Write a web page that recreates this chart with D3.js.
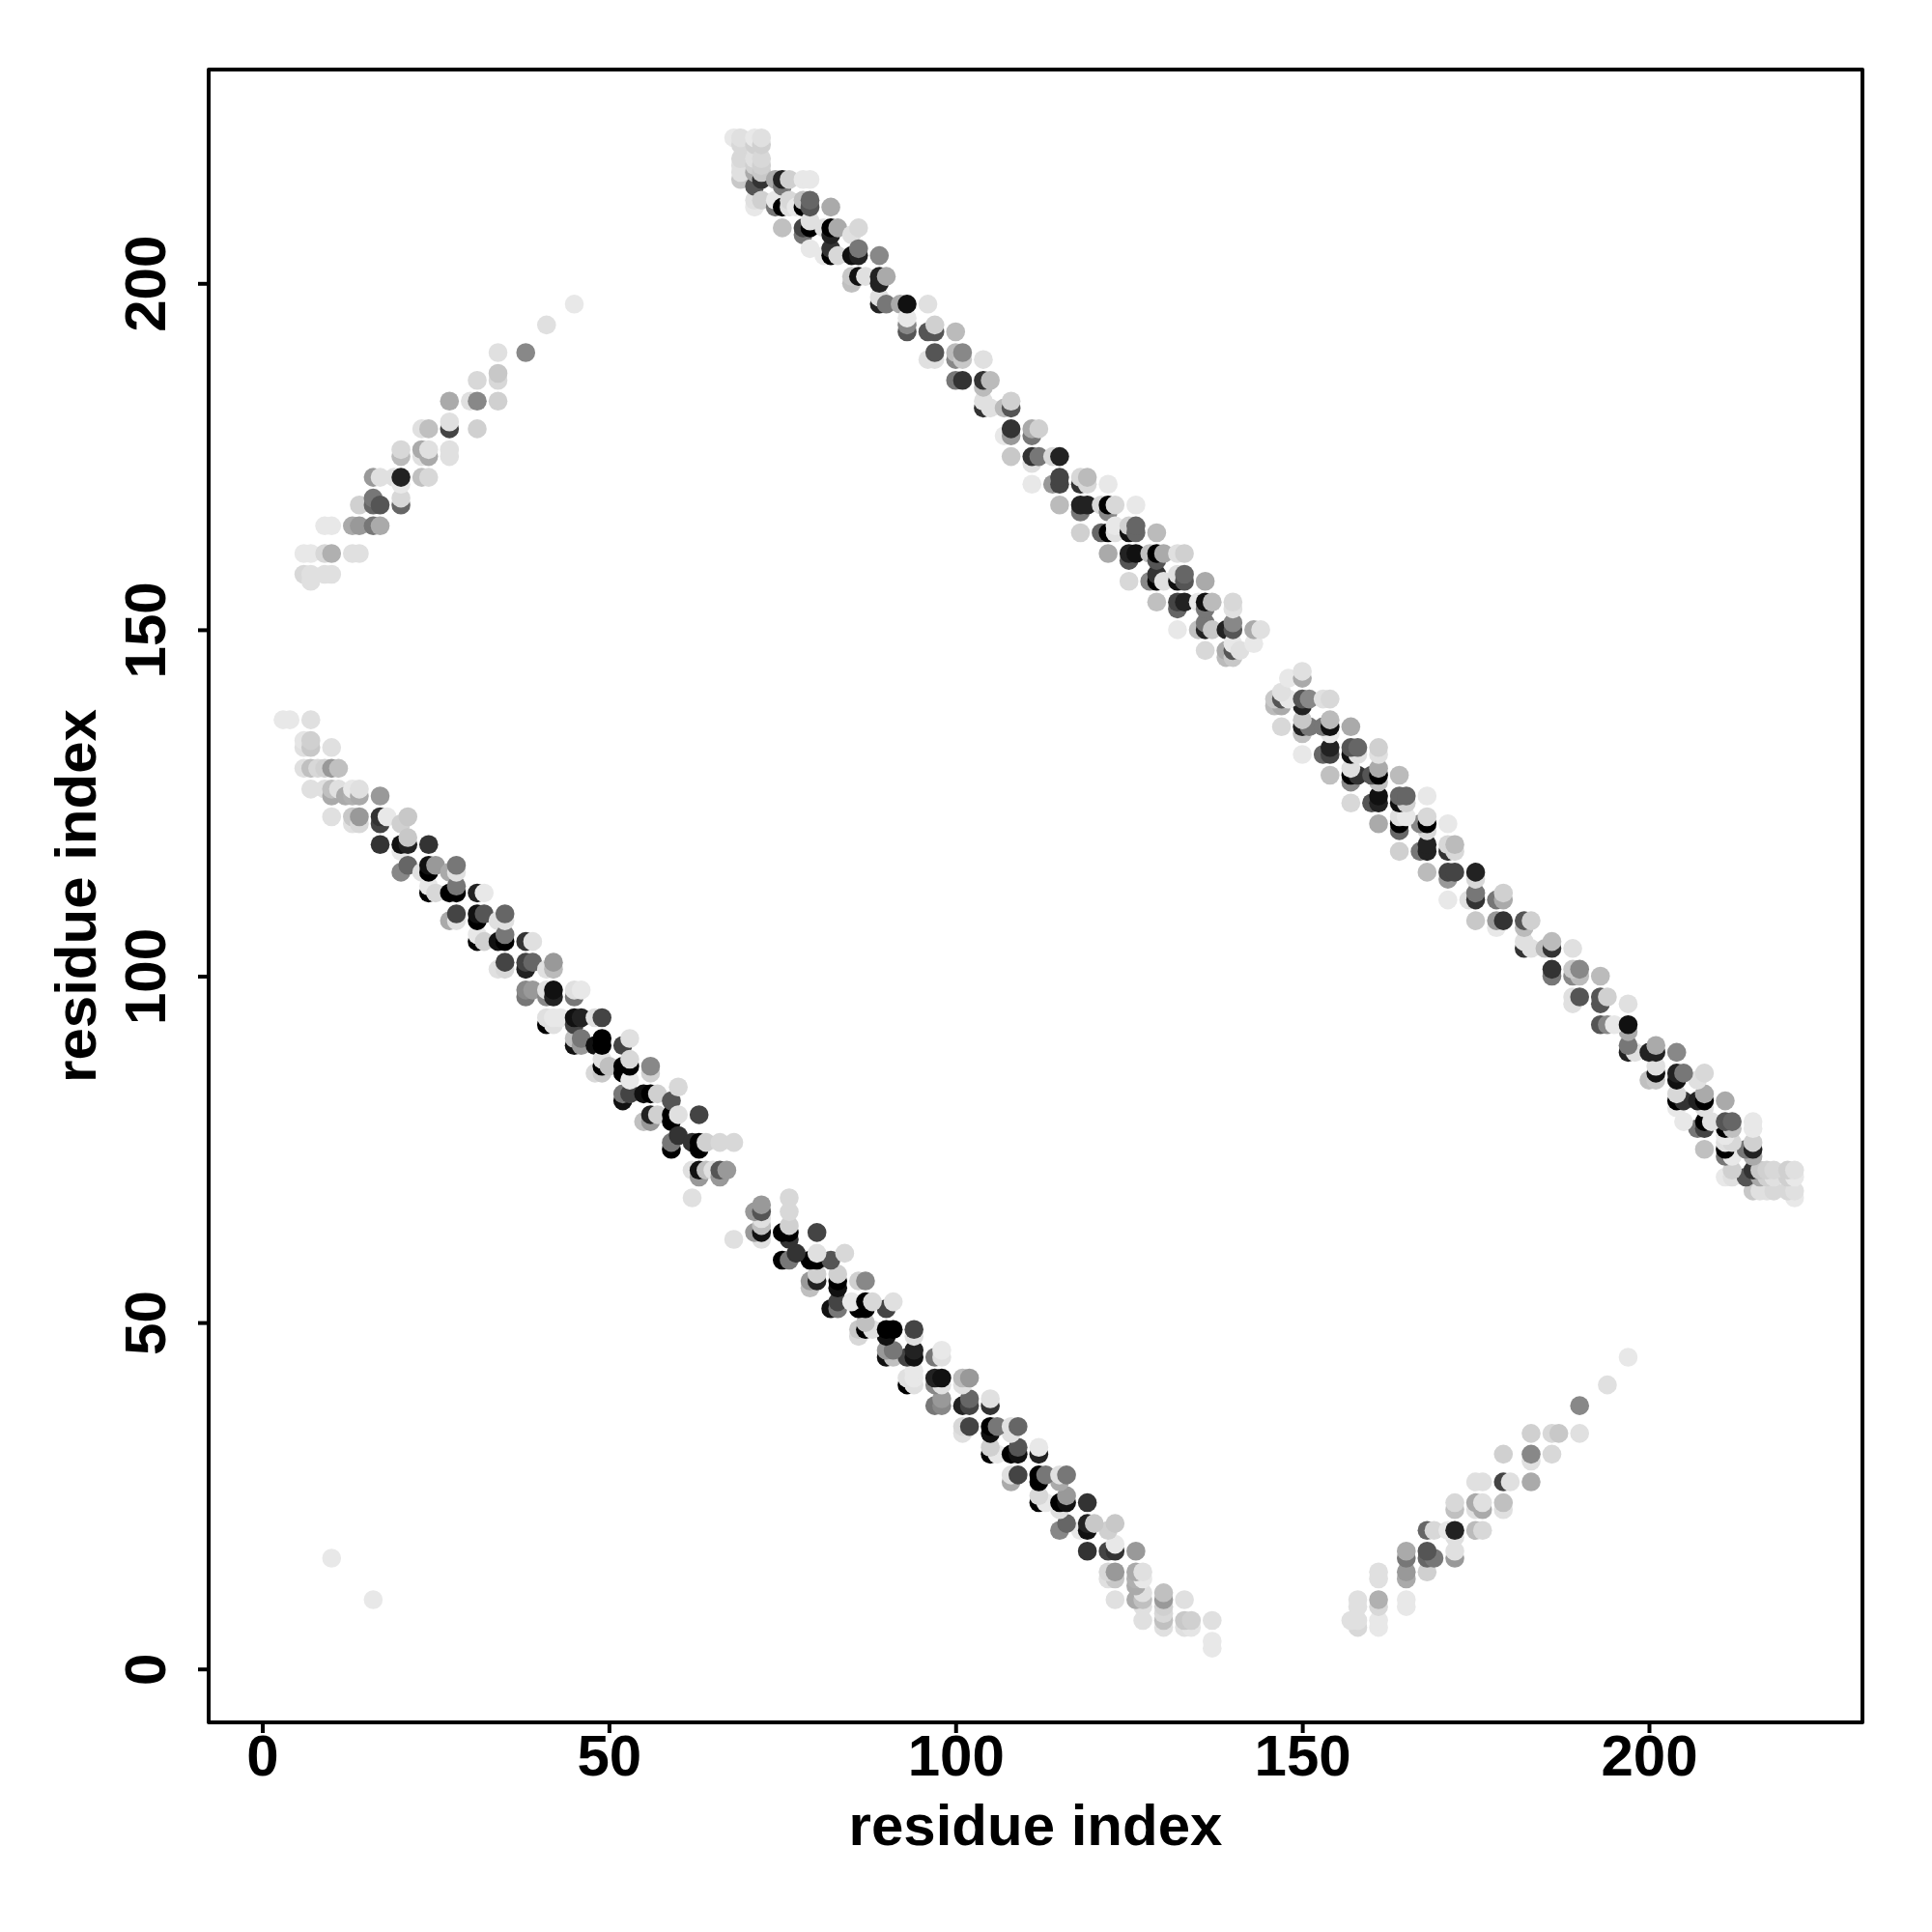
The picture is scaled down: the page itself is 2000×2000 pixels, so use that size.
<!DOCTYPE html>
<html><head><meta charset="utf-8">
<script src="https://cdn.jsdelivr.net/npm/d3@7/dist/d3.min.js"></script>
<style>html,body{margin:0;background:#fff}svg{display:block}</style></head>
<body><div id="chart"></div>
<script>
// each contact: [residue i, residue j, grey level]; the map is symmetric, mirror drawn too
const helixPairA = [
[3,137,0xe8],[4,137,0xe8],[7,137,0xe0],[6,134,0xe5],[7,134,0xd0],[6,133,0xe0],[7,133,0xc8],[10,133,0xe0],
[6,130,0xe0],[7,130,0xc0],[8,130,0xd8],[9,130,0xd0],[10,130,0x99],[11,130,0xc0],
[7,127,0xe0],[9,127,0xe0],[10,127,0xc0],[10,126,0xaa],[11,127,0xe0],[12,126,0xaa],[13,126,0xb0],[13,127,0xe8],[14,126,0xaa],[14,127,0xe0],[17,126,0x99],
[10,123,0xe0],[13,122,0xe0],[13,123,0xc8],[14,122,0xd8],[14,123,0x99],[17,122,0x44],[17,123,0x33],[18,123,0xe8],[20,122,0xd0],[21,123,0xc8],
[17,119,0x33],[20,118,0xe8],[20,119,0x11],[21,119,0x22],[21,120,0xc8],[24,119,0x33],
[20,115,0x88],[21,116,0x66],[23,115,0xe0],[24,115,0x00],[24,116,0x11],[25,116,0x99],[27,115,0xaa],[28,115,0xe0],[28,116,0x77],
[24,112,0x00],[24,113,0xe8],[25,112,0xd8],[27,112,0x00],[28,112,0x00],[28,113,0x77],[31,112,0x22],[32,112,0xe8],
[27,108,0xaa],[28,108,0xe0],[28,109,0x44],[31,108,0x00],[31,109,0x11],[32,109,0x55],[34,108,0xe0],[35,108,0xe0],[35,109,0x66],
[31,105,0x00],[31,106,0xe8],[32,105,0xd0],[34,105,0x11],[35,105,0x00],[35,106,0x77],[38,105,0x33],[39,105,0xe0],
[34,101,0xe0],[35,101,0xd8],[35,102,0x44],[38,101,0x22],[38,102,0x44],[39,102,0x66],[41,101,0xe0],[42,101,0xbb],[42,102,0x99],
[38,97,0x77],[38,98,0x88],[39,98,0x99],[41,97,0x88],[41,98,0xe0],[42,97,0x22],[42,98,0x11],[45,97,0x77],[45,98,0xe0],[46,98,0xe8],
[41,93,0x00],[41,94,0xe0],[42,93,0xe0],[42,94,0xe8],[43,94,0xe8],[45,93,0x44],[45,94,0x11],[46,94,0x22],[48,94,0xe0],[49,94,0x44],
[45,90,0x11],[45,91,0xc0],[46,90,0x99],[46,91,0x77],[48,90,0x11],[49,90,0x00],[49,91,0x00],[52,90,0x44],[53,91,0xe0],
[48,86,0xd8],[49,86,0xc8],[49,87,0x00],[49,88,0xe0],[50,87,0xc0],[52,86,0x00],[52,87,0x00],[53,85,0xe8],[53,87,0x00],[53,88,0xd8],[56,87,0x88],[56,86,0xd0],
[52,82,0x11],[52,83,0x77],[53,83,0x44],[55,83,0x11],[56,83,0x00],[57,83,0xd0],[59,82,0x55],[60,84,0xd8],
[55,79,0xc0],[56,79,0x99],[56,80,0x22],[57,80,0xd0],[59,79,0x00],[59,80,0x00],[60,80,0xe0],[63,80,0x44],
[59,75,0x00],[59,76,0x77],[60,77,0x33],[62,76,0x33],[63,75,0x00],[63,76,0x00],[64,76,0xd0],[66,76,0xd8],[68,76,0xd8],
[62,72,0xe0],[63,71,0x99],[63,72,0x11],[64,72,0xc0],[65,72,0xe0],[66,71,0x99],[66,72,0x55],[67,72,0x99],
[62,68,0xe0]
];
const helixPairB = [
[68,221,0xe8],[69,221,0xe0],[69,220,0xd8],[69,218,0xd8],[69,217,0xe0],[69,216,0xe0],[69,215,0xc8],
[71,221,0xe8],[71,220,0xd0],[71,218,0xe0],[71,217,0xd0],[71,216,0xaa],[71,214,0x55],[71,212,0xe0],[71,211,0xe8],
[72,221,0xe0],[72,220,0xd0],[72,218,0xd8],[72,217,0xd0],[72,216,0xc8],[72,215,0x33],[72,212,0xd0],
[74,215,0xaa],[75,215,0x22],[75,214,0x77],[76,215,0xd0],[78,215,0xe8],[79,215,0xe8],
[74,212,0xe8],[74,211,0x77],[75,211,0x00],[76,212,0xd8],[76,211,0xe0],[77,211,0xe8],[78,212,0xc0],[78,211,0x00],[79,212,0x66],[79,211,0x55],[82,211,0xaa],
[75,208,0xc0],[78,208,0x44],[78,207,0x77],[79,208,0x00],[79,209,0xe0],[81,208,0xe0],[82,208,0x00],[82,207,0x22],[83,208,0xaa],[85,207,0xe0],[86,208,0xd8],
[79,205,0xe8],[81,204,0xe8],[82,205,0x33],[82,204,0x00],[83,204,0xd8],[85,204,0x11],[86,205,0x77],[86,204,0x22],[89,204,0x88],
[85,201,0xc8],[85,200,0xc0],[86,201,0x11],[87,201,0xe0],[89,201,0x22],[89,200,0x22],[90,201,0xaa],
[89,198,0xe0],[89,197,0x22],[90,197,0x77],[92,197,0xaa],[93,197,0x11],[93,195,0xe8],[96,197,0xe0],
[93,194,0x88],[93,193,0x55],[96,193,0x55],[97,193,0x55],[97,194,0xd0],[100,193,0xbb],
[96,189,0xe0],[97,190,0x55],[97,189,0xe0],[100,190,0xbb],[100,189,0x88],[101,190,0x88],[101,189,0xc8],[104,189,0xe0],
[100,186,0x77],[101,186,0x33],[104,186,0x33],[104,185,0xbb],[105,186,0xbb],
[104,183,0xe0],[104,182,0x33],[105,182,0xe0],[107,182,0xbb],[108,183,0xd0],[108,182,0x55],
[107,178,0xe8],[108,179,0x33],[108,178,0x99],[111,179,0xaa],[111,178,0x77],[112,179,0xd0],
[108,175,0xc8],[111,175,0x33],[111,174,0xe0],[112,175,0x77],[114,175,0xd8],[115,175,0x22],
[111,171,0xe8],[114,171,0x99],[115,172,0x44],[115,171,0x44],[118,172,0xd8],[118,171,0x33],[119,172,0xbb],[119,171,0xd8],[122,171,0xe8],
[115,168,0xbb],[118,168,0x22],[118,167,0x77],[119,168,0x22],[121,168,0xd8],[122,168,0x00],[122,167,0x88],[123,168,0xd8],[126,168,0xe8],
[118,164,0xd0],[121,164,0x66],[122,164,0x00],[123,165,0xe8],[123,164,0xe0],[125,165,0xd0],[125,164,0x11],[126,165,0x66],[126,164,0x66],[129,164,0xbb],
[122,161,0xaa],[125,161,0x22],[125,160,0x55],[126,161,0x11],[128,161,0xc0],[129,161,0x00],[129,160,0x55],[130,161,0xaa],[132,161,0xe0],[133,161,0xd0],
[125,157,0xd8],[128,157,0x88],[129,158,0x33],[129,157,0x00],[130,157,0xe0],[132,157,0x11],[132,158,0xe0],[133,158,0x66],[133,157,0x55],[136,157,0xaa],
[129,154,0xc0],[132,154,0x44],[132,153,0x66],[133,154,0x22],[135,154,0xe8],[136,154,0x11],[137,154,0xbb],
[132,150,0xe8],[135,150,0xc0],[136,150,0x22],[137,150,0xc8],[136,153,0x77],[136,151,0x77],[136,147,0xd8],
[139,146,0xbb],[139,147,0xaa],[139,150,0x22],
[140,146,0xc8],[140,147,0x55],[140,148,0xe8],[140,150,0x55],[140,151,0x88],[140,153,0xe0],[140,154,0xd8],
[141,147,0xe0],[143,148,0xe8],[143,150,0xaa],[144,150,0xe0]
];
const crossWing = [
[45,197,0xe8],[41,194,0xe0],[38,190,0x88],[34,190,0xe0],[31,186,0xd8],[34,187,0xc8],[34,186,0xd8],
[27,183,0xaa],[30,183,0xe0],[31,183,0x88],[34,183,0xd0],[23,179,0xe0],[24,179,0xc0],[27,179,0x44],[27,180,0xe0],[31,179,0xd0],
[20,175,0xbb],[20,176,0xd8],[23,175,0xe0],[23,176,0xaa],[24,175,0xaa],[24,176,0xe0],[27,175,0xe0],[27,176,0xe0],
[16,172,0x99],[17,172,0xe0],[19,172,0xe0],[20,172,0x22],[23,172,0xc0],[24,172,0xd8],[20,171,0xe8],[20,168,0x66],[20,169,0xd8],
[14,168,0xd0],[16,168,0x66],[16,169,0x77],[17,168,0x55],
[9,165,0xe8],[10,165,0xe8],[13,165,0xaa],[14,165,0x99],[16,165,0x77],[17,165,0xaa],
[6,161,0xe8],[7,161,0xe8],[9,161,0xd8],[10,161,0xb0],[13,161,0xe0],[14,161,0xe0],
[6,158,0xd8],[7,157,0xe0],[7,158,0xe0],[9,158,0xe0],[10,158,0xe0]
];
const strayContacts = [[10,16,0xe8]];
const tickValues = [0,50,100,150,200];
const axisTitle = "residue index";

const W = 2000, H = 2000;
const frame = {l:216, r:1928, t:72, b:1783};
const x = d3.scaleLinear().domain([0,200]).range([271.5,1707]);
const y = d3.scaleLinear().domain([0,200]).range([1727.7,293.3]);
const svg = d3.select("#chart").append("svg").attr("width",W).attr("height",H);
svg.append("rect").attr("width",W).attr("height",H).attr("fill","#fff");

const contacts = [...helixPairA,...helixPairB,...crossWing,...strayContacts]
  .slice().sort((a,b)=>d3.ascending(a[0],b[0])||d3.ascending(a[1],b[1]));
const points = contacts.flatMap(([i,j,g])=>[{x:i,y:j,g},{x:j,y:i,g}]);
svg.append("g").selectAll("circle").data(points).join("circle")
  .attr("cx",d=>x(d.x)).attr("cy",d=>y(d.y)).attr("r",9.8)
  .attr("fill",d=>d3.rgb(d.g,d.g,d.g));

svg.append("rect").attr("x",frame.l).attr("y",frame.t)
  .attr("width",frame.r-frame.l).attr("height",frame.b-frame.t)
  .attr("fill","none").attr("stroke","#000").attr("stroke-width",4).attr("stroke-linejoin","round");

const font = "'Liberation Sans', Arimo, Helvetica, sans-serif";
const xAxis = svg.append("g").attr("transform",`translate(0,${frame.b})`)
  .call(d3.axisBottom(x).tickValues(tickValues).tickSize(11).tickPadding(0).tickFormat(d3.format("d")));
const yAxis = svg.append("g").attr("transform",`translate(${frame.l},0)`)
  .call(d3.axisLeft(y).tickValues(tickValues).tickSize(11).tickPadding(0).tickFormat(d3.format("d")));
for (const a of [xAxis,yAxis]) {
  a.select(".domain").remove();
  a.attr("font-family",font).attr("font-weight","bold").attr("font-size",60);
  a.selectAll("line").attr("stroke","#000").attr("stroke-width",4);
  a.selectAll("text").attr("fill","#000");
}
xAxis.selectAll("text").attr("y",null).attr("dy",null).attr("transform",null)
  .attr("y",1838-frame.b).attr("text-anchor","middle");
yAxis.selectAll("text").attr("x",null).attr("dy",null)
  .attr("text-anchor","middle")
  .attr("transform",`translate(${171-frame.l},0) rotate(-90)`).attr("x",0).attr("y",0);

const title = (sel)=>sel.attr("font-family",font).attr("font-weight","bold").attr("font-size",60)
  .attr("text-anchor","middle").attr("fill","#000").text(axisTitle);
svg.append("text").attr("x",(frame.l+frame.r)/2).attr("y",1910).call(title);
svg.append("text").attr("transform",`translate(99,${(frame.t+frame.b)/2}) rotate(-90)`).call(title);
</script></body></html>
